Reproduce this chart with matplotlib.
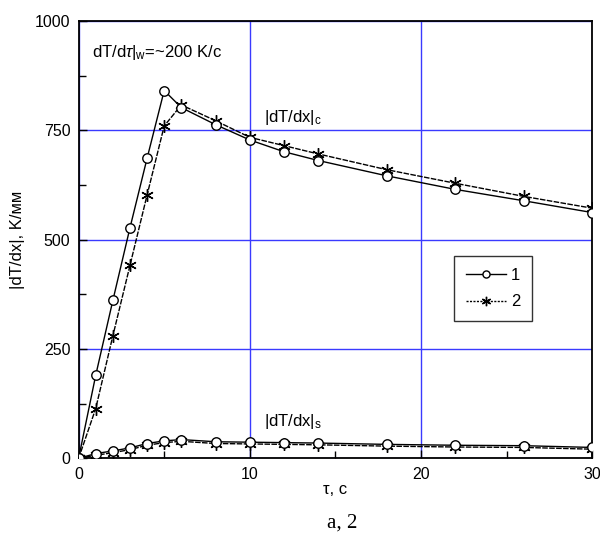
import matplotlib
matplotlib.use("Agg")
import matplotlib.pyplot as plt
from matplotlib.ticker import MultipleLocator

plt.rcParams['font.family'] = ['Liberation Sans', 'DejaVu Sans']
plt.rcParams['mathtext.fontset'] = 'custom'
plt.rcParams['mathtext.rm'] = 'Liberation Sans'
plt.rcParams['mathtext.it'] = 'Liberation Sans:italic'

# time, s
t = [0, 1, 2, 3, 4, 5, 6, 8, 10, 12, 14, 18, 22, 26, 30]
# |dT/dx|_c
c1 = [0, 190, 361, 527, 686, 841, 802, 763, 728, 701, 681, 646, 615, 589, 562]
c2 = [0, 114, 280, 441, 602, 760, 808, 772, 734, 715, 696, 660, 629, 599, 572]
# |dT/dx|_s
s1 = [0, 11, 17, 24, 34, 40, 43, 38, 37, 36, 35, 32, 30, 29, 25]
s2 = [0, 7, 13, 20, 30, 36, 39, 34, 33, 32, 31, 28, 26, 25, 21]

xticks = [0, 10, 20, 30]
yticks = [0, 250, 500, 750, 1000]

fig = plt.figure(figsize=(6.0, 5.38), dpi=100)
ax = fig.add_axes([0.131, 0.148, 0.856, 0.813])

ax.set_xlim(0, 30)
ax.set_ylim(0, 1000)
ax.set_xticks(xticks)
ax.set_yticks(yticks)
ax.xaxis.set_minor_locator(MultipleLocator(5))
ax.yaxis.set_minor_locator(MultipleLocator(125))
ax.tick_params(which='both', direction='in', labelsize=11.5, width=1, color='black')
ax.tick_params(which='major', length=6, pad=6)
ax.tick_params(which='minor', length=5)
for s in ax.spines.values():
    s.set_linewidth(1.3)

ax.grid(True, which='major', color='#3a3aff', linewidth=1.0)
ax.set_axisbelow(True)

lkw1 = dict(color='black', linewidth=1.0, linestyle='-', marker='o', markersize=6.8,
            markerfacecolor='white', markeredgecolor='black', markeredgewidth=1.0)
lkw2 = dict(color='black', linewidth=1.0, linestyle=(0, (4, 1)), marker=(6, 2, 0),
            markersize=9, markeredgecolor='black', markeredgewidth=1.0)

ax.plot(t, c2, zorder=3, **lkw2)
ax.plot(t, s2, zorder=3, **lkw2)
l1, = ax.plot(t, c1, zorder=4, label='1', **lkw1)
ax.plot(t, s1, zorder=4, **lkw1)
l2, = ax.plot([], [], label='2', color='black', linewidth=1.0, linestyle=(0, (1.5, 1)),
              marker=(6, 2, 0), markersize=9, markeredgewidth=1.0)

leg = ax.legend(handles=[l1, l2], loc='upper left', bbox_to_anchor=(0.731, 0.4626),
                borderaxespad=0, frameon=True, fancybox=False, edgecolor='black', fontsize=12,
                handlelength=2.4, handletextpad=0.3, borderpad=0.7, labelspacing=0.7,
                markerscale=0.75)
leg.get_frame().set_linewidth(1.0)
leg.set_zorder(5)

ax.text(0.76, 918, r'dT/d$\tau$|$_{\mathrm{w}}$=~200 K/c', fontsize=12, va='baseline')
ax.text(10.85, 770, r'|dT/dx|$_{\mathrm{c}}$', fontsize=12, va='baseline')
ax.text(10.85, 74, r'|dT/dx|$_{\mathrm{s}}$', fontsize=12, va='baseline')

ax.set_xlabel('τ, c', fontsize=12, labelpad=0)
ax.set_ylabel('|dT/dx|, K/мм', fontsize=12, labelpad=7)

fig.text(0.57, 0.028, 'a, 2', fontsize=15, family='Liberation Serif', ha='center', va='center')

fig.savefig('out.png', dpi=100)
